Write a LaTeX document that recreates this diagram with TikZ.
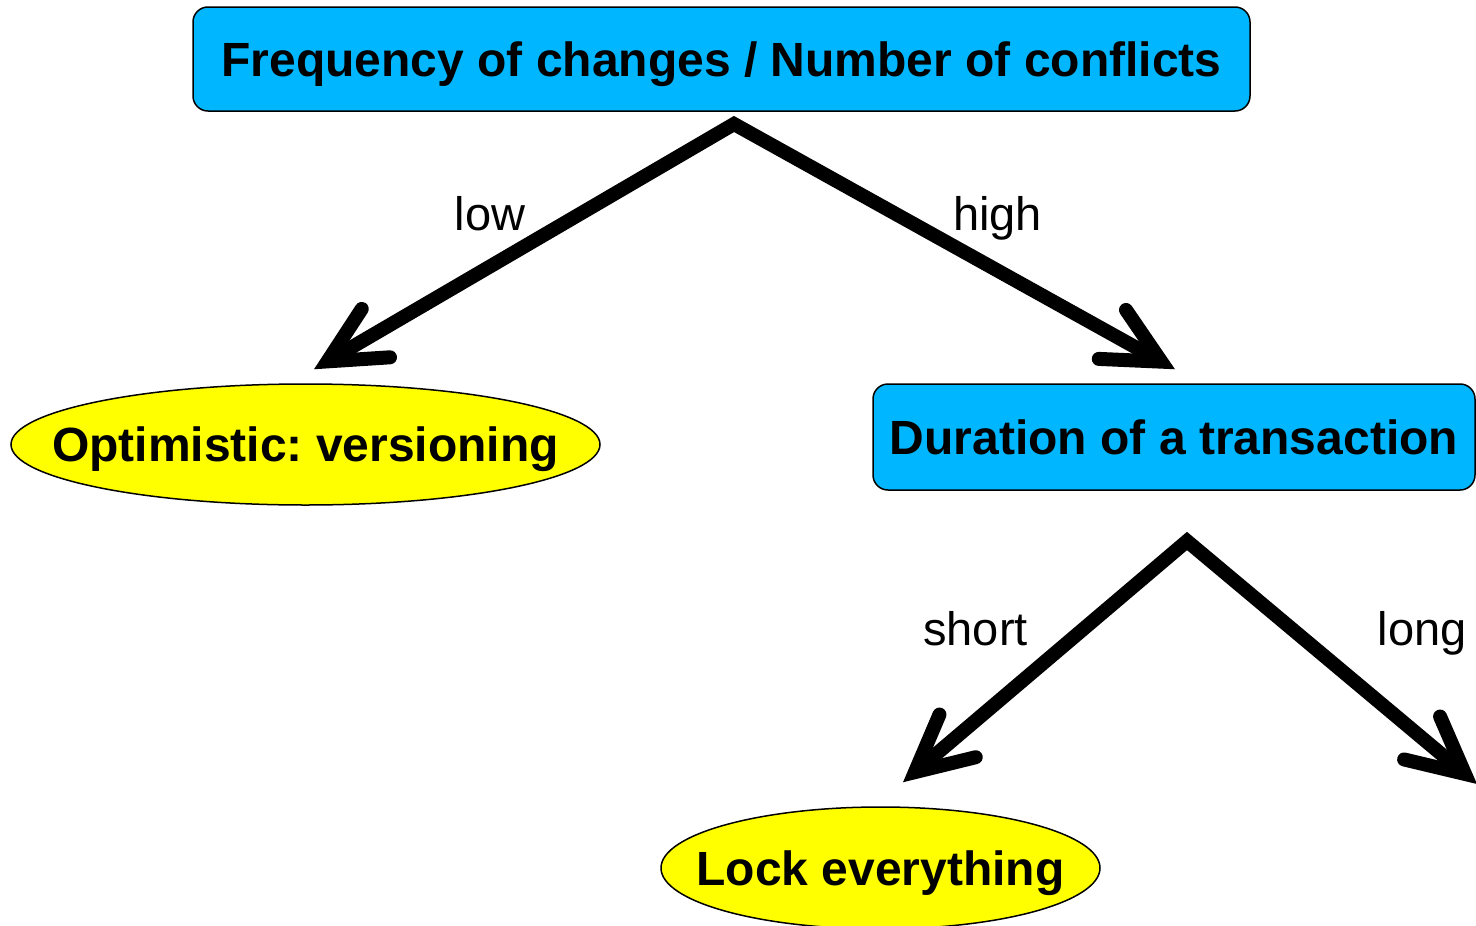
\documentclass[tikz,border=0pt]{standalone}
\usepackage{fontspec}
\setmainfont{Liberation Sans}
\usetikzlibrary{arrows.meta,shapes.geometric,calc}
\frenchspacing
\definecolor{boxblue}{RGB}{0,183,255}
\definecolor{leafyellow}{RGB}{255,255,0}
\tikzset{
  question/.style={draw=black, line width=1.5pt, fill=boxblue, rounded corners=15pt,
    inner sep=0pt, font=\fontsize{48}{56}\selectfont\bfseries,
    text height=34.4pt, text depth=0pt},
  answer/.style={ellipse, draw=black, line width=1.5pt, fill=leafyellow,
    inner xsep=-100pt, inner ysep=0pt, font=\fontsize{48}{56}\selectfont\bfseries,
    text height=34.4pt, text depth=0pt},
  choice/.style={anchor=base, inner sep=0pt, font=\fontsize{47}{56}\selectfont},
  barb/.tip={Straight Barb[length=56pt,width=56pt,line cap=round,line join=miter]},
  branch/.style={line width=14pt, line join=miter, barb-barb}
}
\begin{document}
\begin{tikzpicture}[x=1pt, y=-1pt]
\useasboundingbox (0,0) rectangle (1476,926);

% decision nodes
\node[question, minimum width=1057pt, minimum height=104pt] (freq) at (721.5,59)
  {Frequency of changes / Number of conflicts};
\node[question, minimum width=602pt, minimum height=106pt] (dur) at (1174,437)
  {Duration of a transaction};

% outcomes
\node[answer, minimum width=589pt, minimum height=121pt] (opt) at (305.5,444.5)
  {Optimistic: versioning};
\node[answer, minimum width=439pt, minimum height=122pt] (lock) at (880.5,868)
  {Lock everything};

% branch points and the branch leaving the picture
\coordinate (split1) at (734,124);
\coordinate (split2) at (1187,541);
\coordinate (longend) at (1477,784);

% branches
\draw[branch] ($(opt.north)+(8.5,-14)$) -- (split1) -- ($(dur.north)+(1,-14)$);
\draw[branch] ($(lock.north)+(22.5,-24)$) -- (split2) -- (longend);

% branch labels
\node[choice] (low) at (490,230) {low};
\node[choice] (high) at (997.5,230) {high};
\node[choice] (short) at (975.5,645) {short};
\node[choice] (long) at (1422,645) {long};
\end{tikzpicture}
\end{document}
